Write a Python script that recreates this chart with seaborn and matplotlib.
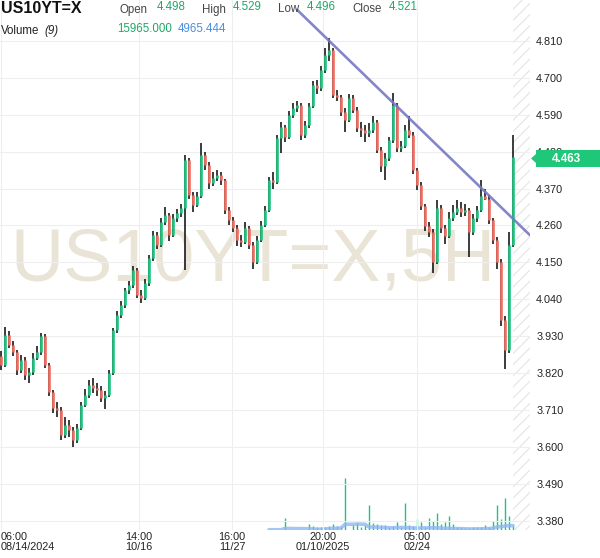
import numpy as np
import seaborn as sns
import matplotlib.pyplot as plt
from matplotlib.patches import Polygon
from matplotlib import font_manager

# ---- data (5H candles, index = bar number) ----
ticker = "US10YT=X"
first_open = 3.870
close = [
    3.844, 3.934, 3.904, 3.883, 3.829, 3.859, 3.814, 3.823, 3.865, 3.883,
    3.931, 3.844, 3.764, 3.716, 3.710, 3.635, 3.665, 3.650, 3.621, 3.656,
    3.725, 3.755, 3.785, 3.776, 3.770, 3.746, 3.755, 3.820, 3.948, 3.993,
    4.023, 4.068, 4.083, 4.127, 4.053, 4.044, 4.088, 4.163, 4.232, 4.202,
    4.270, 4.291, 4.232, 4.282, 4.297, 4.312, 4.455, 4.351, 4.321, 4.348,
    4.470, 4.440, 4.387, 4.402, 4.410, 4.396, 4.306, 4.276, 4.252, 4.217,
    4.211, 4.252, 4.202, 4.151, 4.217, 4.261, 4.306, 4.396, 4.390, 4.521,
    4.554, 4.524, 4.589, 4.610, 4.619, 4.530, 4.559, 4.616, 4.679, 4.670,
    4.723, 4.768, 4.783, 4.649, 4.643, 4.598, 4.574, 4.640, 4.604, 4.550,
    4.545, 4.536, 4.545, 4.568, 4.485, 4.437, 4.461, 4.515, 4.619, 4.491,
    4.497, 4.545, 4.530, 4.425, 4.381, 4.318, 4.258, 4.241, 4.151, 4.312,
    4.252, 4.229, 4.282, 4.300, 4.312, 4.300, 4.306, 4.241, 4.282, 4.306,
    4.348, 4.340, 4.276, 4.217, 4.151, 3.978, 3.889, 4.202, 4.463,
]
high = [
    3.885, 3.958, 3.945, 3.915, 3.890, 3.875, 3.868, 3.835, 3.880, 3.900,
    3.940, 3.936, 3.850, 3.770, 3.735, 3.718, 3.690, 3.680, 3.660, 3.668,
    3.735, 3.772, 3.800, 3.805, 3.790, 3.782, 3.768, 3.830, 3.955, 4.005,
    4.035, 4.075, 4.095, 4.140, 4.132, 4.068, 4.100, 4.172, 4.245, 4.240,
    4.282, 4.315, 4.298, 4.295, 4.310, 4.325, 4.470, 4.460, 4.360, 4.360,
    4.506, 4.478, 4.448, 4.418, 4.425, 4.420, 4.400, 4.315, 4.285, 4.260,
    4.232, 4.270, 4.258, 4.210, 4.228, 4.272, 4.318, 4.405, 4.420, 4.530,
    4.568, 4.560, 4.600, 4.625, 4.632, 4.625, 4.570, 4.625, 4.690, 4.695,
    4.735, 4.790, 4.819, 4.790, 4.665, 4.650, 4.610, 4.652, 4.648, 4.612,
    4.568, 4.560, 4.565, 4.585, 4.575, 4.495, 4.475, 4.525, 4.655, 4.625,
    4.512, 4.560, 4.585, 4.538, 4.432, 4.390, 4.325, 4.270, 4.250, 4.335,
    4.320, 4.262, 4.300, 4.320, 4.335, 4.330, 4.325, 4.312, 4.295, 4.318,
    4.396, 4.370, 4.350, 4.282, 4.225, 4.160, 3.990, 4.240, 4.529,
]
low = [
    3.830, 3.838, 3.895, 3.870, 3.815, 3.820, 3.800, 3.790, 3.815, 3.858,
    3.875, 3.835, 3.752, 3.700, 3.690, 3.620, 3.628, 3.630, 3.600, 3.612,
    3.650, 3.718, 3.745, 3.760, 3.752, 3.735, 3.712, 3.748, 3.815, 3.940,
    3.985, 4.015, 4.055, 4.075, 4.045, 4.030, 4.038, 4.080, 4.155, 4.190,
    4.195, 4.262, 4.215, 4.225, 4.270, 4.285, 4.127, 4.340, 4.300, 4.315,
    4.342, 4.425, 4.370, 4.378, 4.392, 4.382, 4.295, 4.262, 4.240, 4.200,
    4.195, 4.205, 4.190, 4.130, 4.145, 4.210, 4.255, 4.300, 4.370, 4.385,
    4.476, 4.510, 4.518, 4.580, 4.598, 4.515, 4.522, 4.552, 4.610, 4.652,
    4.662, 4.715, 4.750, 4.640, 4.630, 4.585, 4.540, 4.568, 4.595, 4.538,
    4.525, 4.508, 4.525, 4.535, 4.475, 4.420, 4.395, 4.452, 4.505, 4.478,
    4.480, 4.490, 4.520, 4.412, 4.365, 4.305, 4.245, 4.225, 4.118, 4.145,
    4.238, 4.205, 4.222, 4.272, 4.290, 4.285, 4.288, 4.166, 4.232, 4.270,
    4.300, 4.335, 4.265, 4.205, 4.130, 3.960, 3.831, 3.880, 4.195,
]
# no volume reported for the early bars
volume = [0] * 71 + [
    13700, 0, 0, 0, 0, 0, 6800, 4600, 2900, 2900,
    2900, 4600, 6800, 4600, 2900, 59300, 0, 5700, 8000, 2900,
    5700, 28500, 8000, 6800, 5700, 5700, 2900, 4600, 9100, 2900,
    30800, 5700, 4600, 12500, 9100, 2900, 13700, 10300, 19400, 6800,
    9100, 16000, 6800, 2900, 3400, 2300, 2300, 2900, 3400, 2900,
    5700, 2900, 10300, 28500, 12500, 36500, 15965, 4000,
]
volume_ma = [np.nan] * 67 + [
    300, 300, 300, 300,
    1800, 1800, 1600, 1600, 1600, 1500, 1400, 1300, 800, 900,
    1200, 1500, 1800, 2000, 2300, 6500, 6500, 6500, 6800, 6700,
    6500, 3500, 3400, 3200, 3000, 2800, 2500, 2500, 2700, 2900,
    2700, 2500, 2400, 2100, 2300, 2400, 2500, 2600, 2400, 2200,
    2000, 1900, 1800, 1600, 1500, 1300, 1200, 1200, 1200, 1300,
    1400, 1600, 2000, 3500, 3800, 4500, 4965, 4965,
]
tick_pos = [0, 34.5, 57.75, 80.5, 104]
tick_labels = ["06:00\n08/14/2024", "14:00\n10/16", "16:00\n11/27",
               "20:00\n01/10/2025", "05:00\n02/24"]
price_ticks = [3.380, 3.490, 3.600, 3.710, 3.820, 3.930, 4.040,
               4.150, 4.260, 4.370, 4.480, 4.590, 4.700, 4.810]
trend_x = [74, 132.25]
trend_y = [4.903, 4.231]
last_price = 4.463
hdr_ohlc = [("Open", "4.498"), ("High", "4.529"), ("Low", "4.496"), ("Close", "4.521")]
hdr_vol = ("15965.000", "4965.444")

GREEN = '#1dc47e'
RED = '#f26d61'
TXT_GREEN = '#1ea868'

sns.set_theme(style="white")
plt.rcParams['font.family'] = ['Liberation Sans', 'DejaVu Sans']
plt.rcParams['hatch.linewidth'] = 0.8

fig = plt.figure(figsize=(6, 5.58), dpi=100)
W, H = 600, 558
rect = [0, 1 - 530 / H, 530 / W, 530 / H]
ax2 = fig.add_axes(rect)
ax = fig.add_axes(rect, sharex=ax2)
ax2.set_zorder(0)
ax.set_zorder(1)
ax.patch.set_visible(False)

idx = np.arange(len(close))
c = np.array(close)
o = np.array([first_open] + close[:-1])
up = c >= o

# volume pane
ax2.vlines(idx, 0, volume, color=GREEN, lw=1.0)
sns.lineplot(x=idx, y=volume_ma, ax=ax2, color='#8db8f3', lw=2.6, alpha=0.8)
ax2.set_ylim(0, 604200)
ax2.axis('off')

# watermark
names = {f.name for f in font_manager.fontManager.ttflist}
if 'Liberation Sans Narrow' in names:
    ax.text(0.477, 0.508, "US10YT=X,5H", transform=ax.transAxes, ha='center', va='center',
            fontsize=65, color='#e9e4d6', family='Liberation Sans Narrow', zorder=0.3)
else:
    ax.text(0.477, 0.508, "US10YT=X,5H", transform=ax.transAxes, ha='center', va='center',
            fontsize=53, color='#e9e4d6', zorder=0.3)

# candles: black wicks, coloured bodies on top
ax.vlines(idx, low, high, color='#111111', lw=1.15, zorder=2)
ax.vlines(idx[up], o[up], c[up], color=GREEN, lw=1.9, zorder=3)
ax.vlines(idx[~up], o[~up], c[~up], color=RED, lw=1.9, zorder=3)

# trend line
sns.lineplot(x=trend_x, y=trend_y, ax=ax, color='#7779c3', lw=1.9, alpha=0.9, zorder=4)

# future region
ax.axvspan(128, 132.25, facecolor='none', edgecolor='#e4e4e4', hatch='///', lw=0, zorder=0.5)

ax.set_xlim(-0.25, 132.25)
ax.set_ylim(3.3525, 4.932)
ax.set_axisbelow(True)
ax.grid(True, color='#eeeeee', lw=0.8)
for s in ax.spines.values():
    s.set_visible(False)

ax.set_yticks(price_ticks)
ax.set_yticklabels([f"{p:.3f}" for p in price_ticks])
ax.yaxis.tick_right()
ax.tick_params(axis='y', length=0, pad=4.5, labelsize=7.8, labelcolor='#222222')
ax.set_xticks(tick_pos)
ax.set_xticklabels(tick_labels, linespacing=1.05)
ax.tick_params(axis='x', length=0, pad=1.5, labelsize=7.8, labelcolor='#222222')
first = ax.get_xticklabels()[0]
first.set_ha('left')
first.set_multialignment('left')
ax.set_xlabel('')
ax.set_ylabel('')
ax2.set_xlabel('')


def px(x, y):
    return x / W, 1 - y / H


# last price tag
ybox = 158.5
pts = [px(531, ybox), px(536, ybox - 4.5), px(536, ybox - 8.5), px(600, ybox - 8.5),
       px(600, ybox + 8.5), px(536, ybox + 8.5), px(536, ybox + 4.5)]
fig.add_artist(Polygon(pts, closed=True, transform=fig.transFigure,
                       facecolor='#1fc878', edgecolor='none', zorder=5))
fig.text(*px(566, ybox), f"{last_price:.3f}", ha='center', va='center', color='white',
         fontsize=8.5, fontweight='bold', zorder=6)

# header
fig.text(*px(1, 13), ticker, fontsize=11.5, fontweight='bold', color='#111111', va='baseline')
for (lab, val), xl, xv in zip(hdr_ohlc, [120, 202, 278, 352], [157, 233, 307, 389]):
    fig.text(*px(xl, 12.5), lab, fontsize=8.3, color='#444444', va='baseline')
    fig.text(*px(xv, 10), val, fontsize=8.3, color=TXT_GREEN, va='baseline')
fig.text(*px(1, 34), "Volume", fontsize=8.3, color='#222222', va='baseline')
fig.text(*px(44, 34), "(9)", fontsize=8.3, color='#222222', va='baseline', style='italic')
fig.text(*px(117, 32), hdr_vol[0], fontsize=8.3, color=TXT_GREEN, va='baseline')
fig.text(*px(178, 32), hdr_vol[1], fontsize=8.3, color='#4a8fe2', va='baseline')

fig.savefig('out.png', dpi=100, facecolor='white')
